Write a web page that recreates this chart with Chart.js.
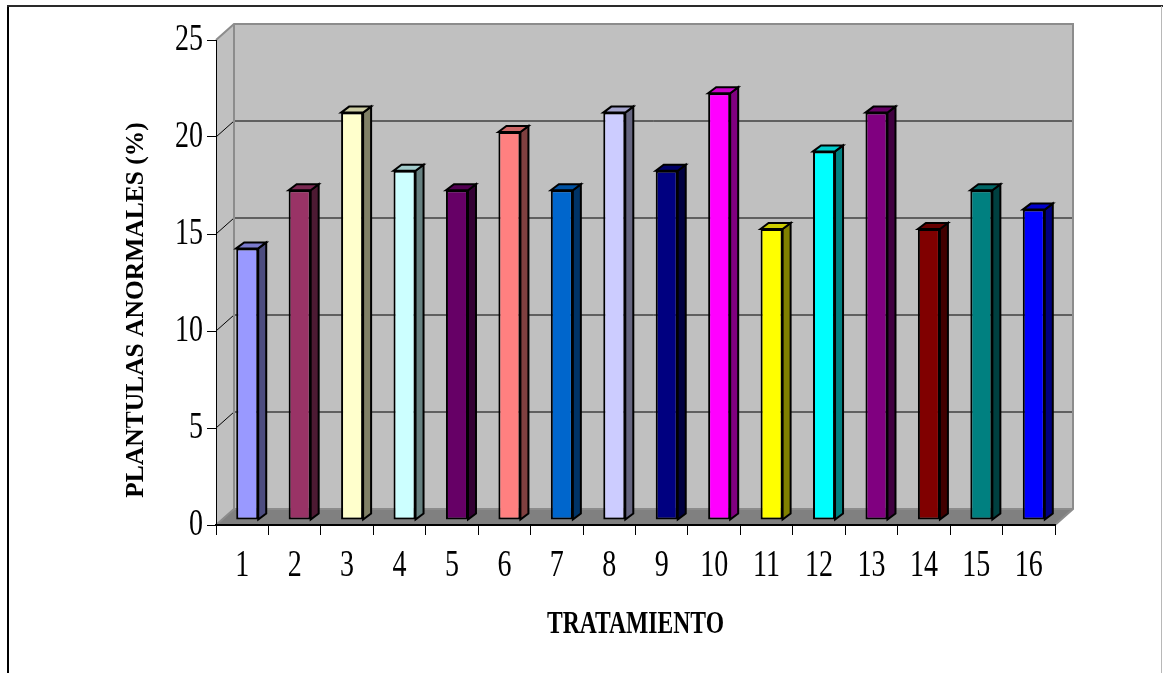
<!DOCTYPE html>
<html>
<head>
<meta charset="utf-8">
<script src="https://cdn.jsdelivr.net/npm/chart.js@4.4.1/dist/chart.umd.min.js"></script>
<style>
  html, body { margin: 0; padding: 0; background: #ffffff; }
  #wrap { width: 1163px; height: 673px; }
</style>
</head>
<body>
<div id="wrap"><canvas id="chart" width="1163" height="673"></canvas></div>
<script>
// Treatments 1..16 and the share of abnormal seedlings for each
const categories = ['1', '2', '3', '4', '5', '6', '7', '8', '9', '10', '11', '12', '13', '14', '15', '16'];
const values = [14, 17, 21, 18, 17, 20, 17, 21, 18, 22, 15, 19, 21, 15, 17, 16];
const barColors = ['#9999FF', '#993366', '#FFFFCC', '#CCFFFF', '#660066', '#FF8080', '#0066CC', '#CCCCFF',
                   '#000080', '#FF00FF', '#FFFF00', '#00FFFF', '#800080', '#800000', '#008080', '#0000FF'];
const yTickValues = [0, 5, 10, 15, 20, 25];
const xTitle = 'TRATAMIENTO';
const yTitle = 'PLANTULAS ANORMALES (%)';

// 3D look: depth of the walls, offset of the bars behind the front plane, bar depth
const WALL = { x: 18, y: -16 };
const BAR_SHIFT = { x: 5, y: -5 };
const BAR_DEPTH = { x: 8, y: -6 };

function shade(hex, f) {
  const n = parseInt(hex.slice(1), 16);
  const r = Math.round(((n >> 16) & 255) * f);
  const g = Math.round(((n >> 8) & 255) * f);
  const b = Math.round((n & 255) * f);
  return 'rgb(' + r + ',' + g + ',' + b + ')';
}

function poly(ctx, pts) {
  ctx.beginPath();
  ctx.moveTo(pts[0][0], pts[0][1]);
  for (let i = 1; i < pts.length; i++) ctx.lineTo(pts[i][0], pts[i][1]);
  ctx.closePath();
}

const box3d = {
  id: 'box3d',
  beforeDraw(chart) {
    const { ctx, chartArea: a } = chart;
    const yScale = chart.scales.y;
    const L = a.left, R = a.right, T = a.top, B = a.bottom, dx = WALL.x, dy = WALL.y;
    ctx.save();
    ctx.fillStyle = '#ffffff';
    ctx.fillRect(0, 0, chart.width, chart.height);

    // outer frame
    ctx.fillStyle = '#000000';
    ctx.fillRect(7, 6, 2, chart.height - 6);
    ctx.fillStyle = '#2a2a2a';
    ctx.fillRect(7, 5, chart.width - 7, 2);
    ctx.fillStyle = '#b8b8b8';
    ctx.fillRect(chart.width - 2, 6, 1, chart.height - 6);

    // back wall
    ctx.fillStyle = '#C0C0C0';
    ctx.fillRect(L + dx, T + dy, R - L, B - T);
    // side wall
    poly(ctx, [[L, T], [L + dx, T + dy], [L + dx, B + dy], [L, B]]);
    ctx.fill();
    // floor
    ctx.fillStyle = '#808080';
    poly(ctx, [[L, B], [L + dx, B + dy], [R + dx, B + dy], [R, B]]);
    ctx.fill();

    // gridlines on back and side wall
    ctx.strokeStyle = '#000000';
    ctx.lineWidth = 1;
    yTickValues.forEach(v => {
      if (v <= 0 || v >= 25) return;
      const py = Math.round(yScale.getPixelForValue(v));
      ctx.beginPath();
      ctx.moveTo(L + dx, py + dy);
      ctx.lineTo(R + dx, py + dy);
      ctx.stroke();
      ctx.beginPath();
      ctx.moveTo(L, py);
      ctx.lineTo(L + dx, py + dy);
      ctx.stroke();
    });

    // wall edges
    ctx.strokeStyle = '#8c8c8c';
    ctx.lineWidth = 2;
    ctx.beginPath();
    ctx.moveTo(L, T);
    ctx.lineTo(L + dx, T + dy);
    ctx.lineTo(R + dx, T + dy);
    ctx.lineTo(R + dx, B + dy);
    ctx.lineTo(R, B);
    ctx.moveTo(L + dx, T + dy);
    ctx.lineTo(L + dx, B + dy);
    ctx.moveTo(L, B);
    ctx.lineTo(L + dx, B + dy);
    ctx.lineTo(R + dx, B + dy);
    ctx.stroke();
    ctx.restore();
  },
  beforeDatasetsDraw(chart) {
    chart.ctx.save();
    chart.ctx.translate(BAR_SHIFT.x, BAR_SHIFT.y);
  },
  afterDatasetsDraw(chart) {
    const ctx = chart.ctx;
    const meta = chart.getDatasetMeta(0);
    const bx = BAR_DEPTH.x, by = BAR_DEPTH.y;
    meta.data.forEach((bar, i) => {
      const { x, y, base, width } = bar.getProps(['x', 'y', 'base', 'width'], true);
      const l = x - width / 2, r = x + width / 2;
      const c = barColors[i];
      ctx.lineWidth = 2;
      ctx.strokeStyle = '#000000';
      ctx.lineJoin = 'miter';
      ctx.fillStyle = shade(c, 0.5);
      poly(ctx, [[r, y], [r + bx, y + by], [r + bx, base + by], [r, base]]);
      ctx.fill();
      ctx.stroke();
      ctx.fillStyle = shade(c, 0.8);
      poly(ctx, [[l, y], [l + bx, y + by], [r + bx, y + by], [r, y]]);
      ctx.fill();
      ctx.stroke();
    });
    ctx.restore();
  },
  afterDraw(chart) {
    const { ctx, chartArea: a } = chart;
    const xScale = chart.scales.x, yScale = chart.scales.y;
    ctx.save();
    ctx.fillStyle = '#000000';

    // value axis labels
    ctx.font = '28px "Liberation Serif", "Times New Roman", serif';
    ctx.textAlign = 'right';
    ctx.textBaseline = 'middle';
    yTickValues.forEach(v => {
      ctx.save();
      ctx.translate(a.left - 13, yScale.getPixelForValue(v));
      ctx.scale(1, 1.37);
      ctx.fillText(String(v), 0, 0);
      ctx.restore();
    });

    // category labels
    ctx.textAlign = 'center';
    categories.forEach((lab, i) => {
      ctx.save();
      ctx.translate(xScale.getPixelForValue(i), a.bottom + 41);
      ctx.scale(1, 1.37);
      ctx.fillText(lab, 0, 0);
      ctx.restore();
    });

    // axis titles
    ctx.font = 'bold 23.6px "Liberation Serif", "Times New Roman", serif';
    ctx.save();
    ctx.translate((a.left + a.right) / 2, 624.5);
    ctx.scale(1, 1.344);
    ctx.fillText(xTitle, 0, 0);
    ctx.restore();

    ctx.font = 'bold 25.5px "Liberation Serif", "Times New Roman", serif';
    ctx.save();
    ctx.translate(136.5, 310);
    ctx.rotate(-Math.PI / 2);
    ctx.fillText(yTitle, 0, 0);
    ctx.restore();
    ctx.restore();
  }
};

new Chart(document.getElementById('chart'), {
  type: 'bar',
  data: {
    labels: categories,
    datasets: [{
      data: values,
      backgroundColor: barColors,
      borderColor: '#000000',
      borderWidth: 2,
      borderSkipped: false,
      categoryPercentage: 1,
      barPercentage: 0.42,
      clip: false
    }]
  },
  options: {
    responsive: false,
    animation: false,
    devicePixelRatio: 1,
    layout: { padding: { left: 0, top: 40, right: 108, bottom: 0 } },
    plugins: { legend: { display: false }, tooltip: { enabled: false } },
    scales: {
      x: {
        grid: { display: true, drawOnChartArea: false, drawTicks: true, tickLength: 10, color: '#000000', lineWidth: 1, offset: true },
        border: { display: true, color: '#000000', width: 2 },
        ticks: { display: false },
        afterFit(s) { s.height = 148; }
      },
      y: {
        min: 0,
        max: 25,
        ticks: { stepSize: 5, display: false },
        grid: { display: true, drawOnChartArea: false, drawTicks: true, tickLength: 9, color: '#000000', lineWidth: 1 },
        border: { display: true, color: '#000000', width: 1 },
        afterFit(s) { s.width = 216; }
      }
    }
  },
  plugins: [box3d]
});
</script>
</body>
</html>
